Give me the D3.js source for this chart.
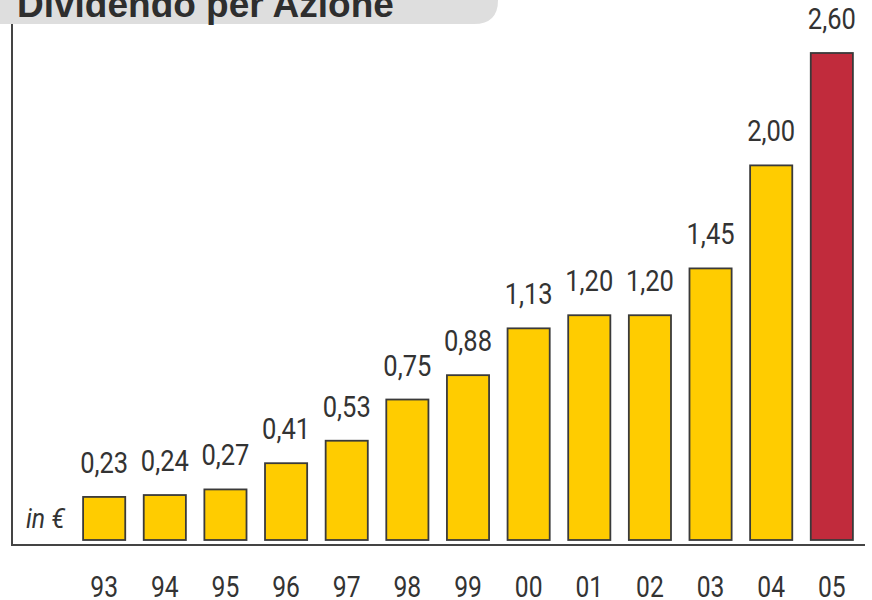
<!DOCTYPE html>
<html>
<head>
<meta charset="utf-8">
<script src="https://cdn.jsdelivr.net/npm/d3@7"></script>
<style>
  body { margin: 0; background: #fff; }
  .canvas { width: 872px; height: 600px; overflow: hidden; }
  text { fill: #333; }
  .val, .year { font-family: "Roboto", "Liberation Sans", sans-serif; font-size: 29px; }
</style>
</head>
<body>
<div class="canvas"></div>
<script>
// dividend per share, in euro
var years = ['93', '94', '95', '96', '97', '98', '99', '00', '01', '02', '03', '04', '05'];
var values = [0.23, 0.24, 0.27, 0.41, 0.53, 0.75, 0.88, 1.13, 1.20, 1.20, 1.45, 2.00, 2.60];
var labels = ['0,23', '0,24', '0,27', '0,41', '0,53', '0,75', '0,88', '1,13', '1,20', '1,20', '1,45', '2,00', '2,60'];
var highlight = '05';

var width = 872, height = 600;

var svg = d3.select('.canvas').append('svg')
	.attr('width', width).attr('height', height);

// title tab
svg.append('path')
	.attr('d', 'M0,-10 H498 V0 Q498,24 474,24 H0 Z')
	.attr('fill', '#dedede');
svg.append('text')
	.attr('x', 17).attr('y', 17)
	.style('font-family', 'Liberation Sans, Arial, sans-serif')
	.style('font-weight', 'bold')
	.style('font-size', '37px')
	.style('fill', '#2e2e2e')
	.text('Dividendo per Azione');

var x = d3.scaleBand()
	.domain(years)
	.range([74, 862])
	.paddingInner(0.305)
	.paddingOuter(0.15);

var y = d3.scaleLinear()
	.domain([0, 2.60])
	.range([540, 53]);

// axes lines
svg.append('line')
	.attr('x1', 12).attr('x2', 12).attr('y1', 24).attr('y2', 545.5)
	.attr('stroke', '#444').attr('stroke-width', 2);
svg.append('line')
	.attr('x1', 11).attr('x2', 865).attr('y1', 545).attr('y2', 545)
	.attr('stroke', '#444').attr('stroke-width', 2);

var bars = svg.selectAll('rect.bar')
	.data(years)
	.enter()
	.append('rect')
	.classed('bar', true)
	.attr('x', d => x(d))
	.attr('width', x.bandwidth())
	.attr('y', (d, i) => y(values[i]))
	.attr('height', (d, i) => y(0) - y(values[i]))
	.attr('fill', d => d === highlight ? '#c12b3c' : '#ffcc00')
	.attr('stroke', '#3a3a3a')
	.attr('stroke-width', 1.8);

// value labels, squeezed to look like the condensed face
svg.selectAll('text.val')
	.data(years)
	.enter()
	.append('text')
	.classed('val', true)
	.attr('transform', (d, i) => 'translate(' + (x(d) + x.bandwidth() / 2) + ',' + (y(values[i]) - 24) + ') scale(0.88,1)')
	.attr('text-anchor', 'middle')
	.text((d, i) => labels[i]);

svg.selectAll('text.year')
	.data(years)
	.enter()
	.append('text')
	.classed('year', true)
	.attr('transform', d => 'translate(' + (x(d) + x.bandwidth() / 2) + ',597) scale(0.85,1)')
	.attr('text-anchor', 'middle')
	.text(d => d);

svg.append('text')
	.attr('transform', 'translate(26,528) scale(0.92,1)')
	.style('font-family', 'Roboto, sans-serif')
	.style('font-style', 'italic')
	.style('font-size', '27px')
	.text('in €');
</script>
</body>
</html>
